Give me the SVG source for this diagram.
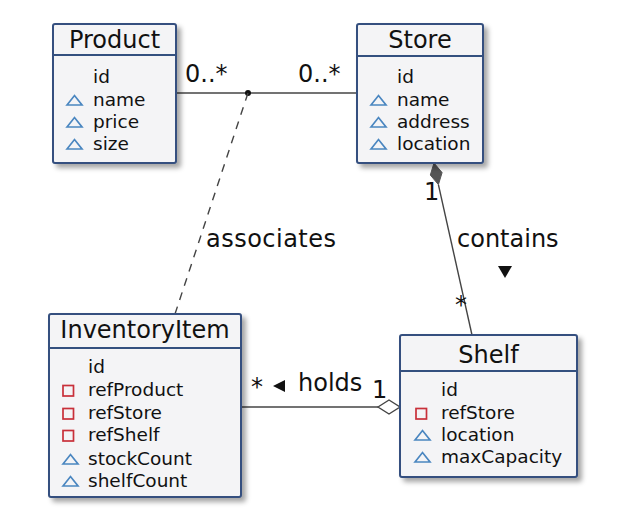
<svg xmlns="http://www.w3.org/2000/svg" width="621" height="516" viewBox="0 0 621 516">
<style>
.box{fill:#F4F4F6;stroke:#34507F;stroke-width:2}
.title{font-family:"DejaVu Sans",sans-serif;font-size:24px;fill:#111;text-anchor:middle}
.attr{font-family:"DejaVu Sans",sans-serif;font-size:18.5px;fill:#111}
.lbl{font-family:"DejaVu Sans",sans-serif;font-size:24px;fill:#111}
.tri{fill:none;stroke:#4A86C0;stroke-width:1.7}
.sq{fill:none;stroke:#C8303A;stroke-width:1.7}
.ln{fill:none;stroke:#444;stroke-width:1.4}
</style>
<defs>
<filter id="sh" x="-10%" y="-10%" width="130%" height="130%">
<feDropShadow dx="4" dy="4" stdDeviation="2.5" flood-color="#000" flood-opacity="0.35"/>
</filter>
<path id="t" class="tri" d="M0,0 L7.5,-9.5 L15,0 Z"/>
<rect id="s" class="sq" x="0" y="-10.5" width="10.5" height="10.5"/>
</defs>
<rect width="621" height="516" fill="#fff"/>

<g id="connectors">
<line class="ln" x1="176" y1="93" x2="357" y2="93"/>
<circle cx="248" cy="93" r="3" fill="#111"/>
<line class="ln" x1="248" y1="93" x2="175" y2="314" stroke-dasharray="8,7"/>
<text class="lbl" x="185" y="82">0..*</text>
<text class="lbl" x="298" y="82">0..*</text>
<text class="lbl" x="206" y="247" textLength="130" lengthAdjust="spacing">associates</text>

<line class="ln" x1="438.4" y1="184.6" x2="472" y2="335"/>
<polygon points="434,163 442.1,172.6 438.4,184.6 430.3,175" fill="#555" stroke="#555" stroke-width="1"/>
<text class="lbl" x="424" y="200">1</text>
<text class="lbl" x="457" y="247">contains</text>
<polygon points="498,266 512,266 505,278" fill="#111"/>
<text class="lbl" x="455" y="313">*</text>

<line class="ln" x1="241" y1="407" x2="378" y2="407"/>
<polygon points="378,407 389,400 400,407 389,414" fill="#fff" stroke="#444" stroke-width="1.4"/>
<text class="lbl" x="251" y="395">*</text>
<polygon points="273,386 285,380 285,392" fill="#111"/>
<text class="lbl" x="298" y="391">holds</text>
<text class="lbl" x="372" y="398">1</text>
</g>

<g id="Product">
<rect class="box" x="53" y="24" width="123" height="139" rx="2" filter="url(#sh)"/>
<line x1="53" y1="55" x2="176" y2="55" stroke="#34507F" stroke-width="2"/>
<text class="title" x="114.5" y="48">Product</text>
<text class="attr" x="93" y="83">id</text>
<use href="#t" x="67" y="105"/><text class="attr" x="93" y="105.5">name</text>
<use href="#t" x="67" y="127"/><text class="attr" x="93" y="127.5">price</text>
<use href="#t" x="67" y="149"/><text class="attr" x="93" y="149.5">size</text>
</g>

<g id="Store">
<rect class="box" x="357" y="24" width="126" height="139" rx="2" filter="url(#sh)"/>
<line x1="357" y1="56" x2="483" y2="56" stroke="#34507F" stroke-width="2"/>
<text class="title" x="420" y="48">Store</text>
<text class="attr" x="397" y="83">id</text>
<use href="#t" x="371" y="105"/><text class="attr" x="397" y="105.5">name</text>
<use href="#t" x="371" y="127"/><text class="attr" x="397" y="127.5">address</text>
<use href="#t" x="371" y="149"/><text class="attr" x="397" y="149.5">location</text>
</g>

<g id="InventoryItem">
<rect class="box" x="49" y="314" width="192" height="183" rx="2" filter="url(#sh)"/>
<line x1="49" y1="348" x2="241" y2="348" stroke="#34507F" stroke-width="2"/>
<text class="title" x="145" y="338">InventoryItem</text>
<text class="attr" x="88" y="373">id</text>
<use href="#s" x="63" y="396"/><text class="attr" x="88" y="396">refProduct</text>
<use href="#s" x="63" y="419"/><text class="attr" x="88" y="419">refStore</text>
<use href="#s" x="63" y="441"/><text class="attr" x="88" y="441">refShelf</text>
<use href="#t" x="63" y="464"/><text class="attr" x="88" y="464.5">stockCount</text>
<use href="#t" x="63" y="486"/><text class="attr" x="88" y="486.5">shelfCount</text>
</g>

<g id="Shelf">
<rect class="box" x="400" y="335" width="177" height="142" rx="2" filter="url(#sh)"/>
<line x1="400" y1="371" x2="577" y2="371" stroke="#34507F" stroke-width="2"/>
<text class="title" x="488.5" y="363">Shelf</text>
<text class="attr" x="441" y="396">id</text>
<use href="#s" x="416" y="419"/><text class="attr" x="441" y="418.5">refStore</text>
<use href="#t" x="415" y="440"/><text class="attr" x="441" y="441">location</text>
<use href="#t" x="415" y="462"/><text class="attr" x="441" y="463">maxCapacity</text>
</g>
</svg>
